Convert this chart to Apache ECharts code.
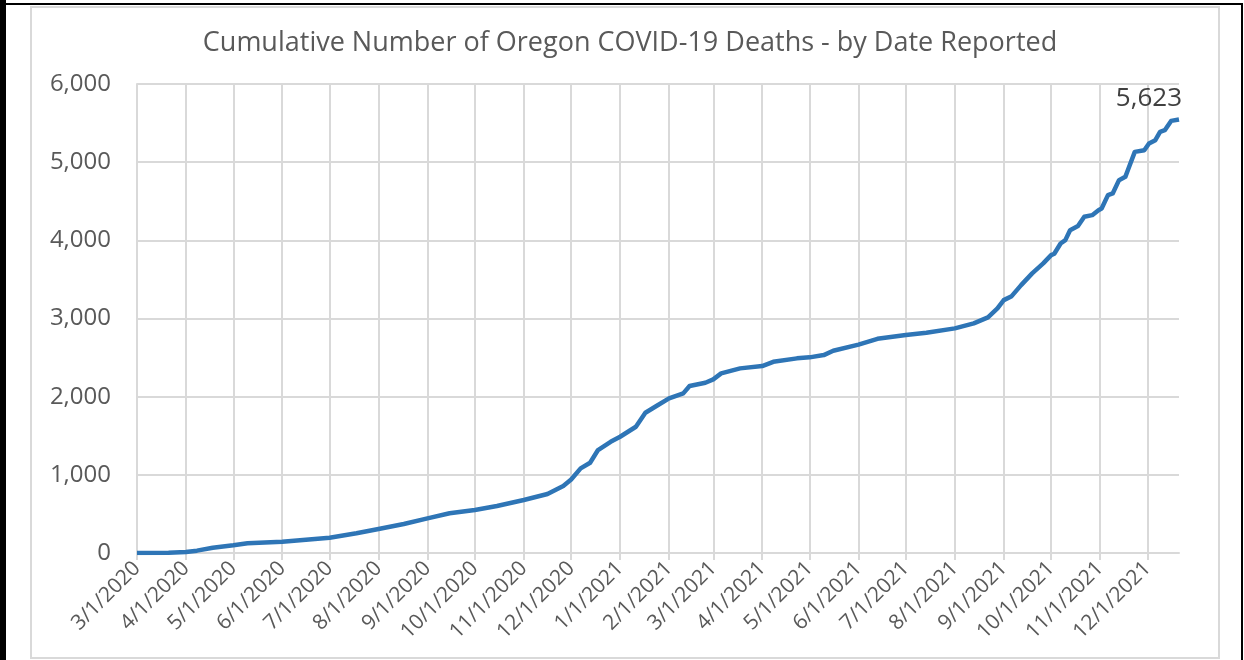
<!DOCTYPE html>
<html>
<head>
<meta charset="utf-8">
<script src="https://cdn.jsdelivr.net/npm/echarts@6/dist/echarts.min.js"></script>
<style>
  html, body { margin: 0; padding: 0; background: #fff; }
  #chart { width: 1244px; height: 660px; }
</style>
</head>
<body>
<div id="chart"></div>
<script>
// first and last day on the axis
const startDate = '2020-03-01';
const endDate = '2021-12-21';

// readings: date reported, cumulative deaths
const readDates = [
  '3/1/2020', '3/21/2020', '4/1/2020', '4/8/2020', '4/18/2020', '5/1/2020', '5/10/2020',
  '6/1/2020', '7/1/2020', '7/18/2020', '8/1/2020', '8/17/2020', '9/1/2020', '9/15/2020',
  '10/1/2020', '10/15/2020', '11/1/2020', '11/16/2020', '11/26/2020', '12/1/2020',
  '12/7/2020', '12/13/2020', '12/18/2020', '12/26/2020', '1/1/2021', '1/11/2021',
  '1/17/2021', '1/24/2021', '2/1/2021', '2/10/2021', '2/14/2021', '2/24/2021',
  '3/1/2021', '3/6/2021', '3/18/2021', '4/1/2021', '4/8/2021', '4/23/2021', '5/1/2021',
  '5/10/2021', '5/16/2021', '6/1/2021', '6/13/2021', '7/1/2021', '7/14/2021',
  '8/1/2021', '8/13/2021', '8/22/2021', '8/28/2021', '9/1/2021', '9/6/2021',
  '9/12/2021', '9/19/2021', '9/26/2021', '10/1/2021', '10/3/2021', '10/7/2021',
  '10/10/2021', '10/13/2021', '10/18/2021', '10/22/2021', '10/27/2021', '10/31/2021',
  '11/2/2021', '11/6/2021', '11/9/2021', '11/13/2021', '11/17/2021', '11/19/2021',
  '11/23/2021', '11/29/2021', '12/2/2021', '12/6/2021', '12/9/2021', '12/12/2021',
  '12/16/2021', '12/21/2021'
];
const deaths = [
  0, 2, 12, 30, 68, 98, 124,
  145, 196, 252, 307, 371, 443, 508,
  550, 601, 678, 755, 857, 940,
  1083, 1155, 1317, 1423, 1487, 1615,
  1794, 1880, 1978, 2042, 2136, 2178,
  2221, 2298, 2362, 2391, 2446, 2490, 2503,
  2532, 2587, 2665, 2740, 2788, 2817,
  2874, 2937, 3014, 3129, 3235, 3286,
  3427, 3577, 3705, 3811, 3828, 3960,
  4003, 4130, 4182, 4301, 4322, 4386,
  4408, 4578, 4600, 4770, 4812, 4919,
  5132, 5153, 5239, 5281, 5388, 5409,
  5528, 5546
];
// total written on the chart next to the end of the line
const reportedTotal = 5623;

const yTicks = [0, 1000, 2000, 3000, 4000, 5000, 6000];

// one category per day, written like 3/1/2020
const days = [];
for (let d = new Date(startDate + 'T00:00:00Z'); d <= new Date(endDate + 'T00:00:00Z'); d.setUTCDate(d.getUTCDate() + 1)) {
  days.push((d.getUTCMonth() + 1) + '/' + d.getUTCDate() + '/' + d.getUTCFullYear());
}
const firstOfMonth = (index, value) => value.split('/')[1] === '1';

const seriesData = readDates.map((day, i) => [day, deaths[i]]);
const lastPoint = seriesData[seriesData.length - 1];

const chart = echarts.init(document.getElementById('chart'));
chart.setOption({
  backgroundColor: '#fff',
  animation: false,
  title: {
    text: 'Cumulative Number of Oregon COVID-19 Deaths - by Date Reported',
    left: 625,
    top: 25,
    textAlign: 'center',
    textStyle: { fontFamily: 'Open Sans', fontSize: 27, fontWeight: 'normal', color: '#595959' }
  },
  grid: { left: 137, top: 84, width: 1042, height: 469 },
  xAxis: {
    type: 'category',
    data: days,
    boundaryGap: false,
    axisLine: { lineStyle: { color: '#d9d9d9', width: 2 } },
    axisTick: { interval: firstOfMonth, length: 7, lineStyle: { color: '#d9d9d9', width: 2 } },
    splitLine: { show: true, interval: firstOfMonth, lineStyle: { color: '#d9d9d9', width: 2 } },
    axisLabel: {
      interval: firstOfMonth,
      rotate: 45,
      margin: 12,
      fontFamily: 'Open Sans',
      fontSize: 21,
      color: '#595959'
    }
  },
  yAxis: {
    type: 'value',
    min: yTicks[0],
    max: yTicks[yTicks.length - 1],
    interval: 1000,
    axisLine: { show: true, lineStyle: { color: '#d9d9d9', width: 2 } },
    axisTick: { show: false },
    splitLine: { lineStyle: { color: '#d9d9d9', width: 2 } },
    axisLabel: {
      margin: 26,
      fontFamily: 'Open Sans',
      fontSize: 24,
      color: '#595959',
      formatter: v => v.toLocaleString('en-US')
    }
  },
  series: [{
    type: 'line',
    data: seriesData,
    showSymbol: false,
    symbol: 'none',
    lineStyle: { color: '#2e75b6', width: 4.5, join: 'round' },
    itemStyle: { color: '#2e75b6' },
    markPoint: {
      symbol: 'circle',
      symbolSize: 0,
      silent: true,
      data: [{ coord: lastPoint, value: reportedTotal }],
      label: {
        show: true,
        position: [3, -21],
        align: 'right',
        verticalAlign: 'middle',
        fontFamily: 'Open Sans',
        fontSize: 26,
        color: '#404040',
        formatter: p => p.value.toLocaleString('en-US')
      }
    }
  }],
  graphic: [
    { type: 'rect', shape: { x: 31, y: 7, width: 1188, height: 651 }, style: { fill: 'none', stroke: '#d9d9d9', lineWidth: 2 }, silent: true },
    { type: 'rect', shape: { x: 0, y: 0, width: 6, height: 660 }, style: { fill: '#000' }, silent: true },
    { type: 'rect', shape: { x: 0, y: 3, width: 1243, height: 2 }, style: { fill: '#000' }, silent: true },
    { type: 'rect', shape: { x: 1241, y: 3, width: 2, height: 657 }, style: { fill: '#000' }, silent: true }
  ]
});
</script>
</body>
</html>
